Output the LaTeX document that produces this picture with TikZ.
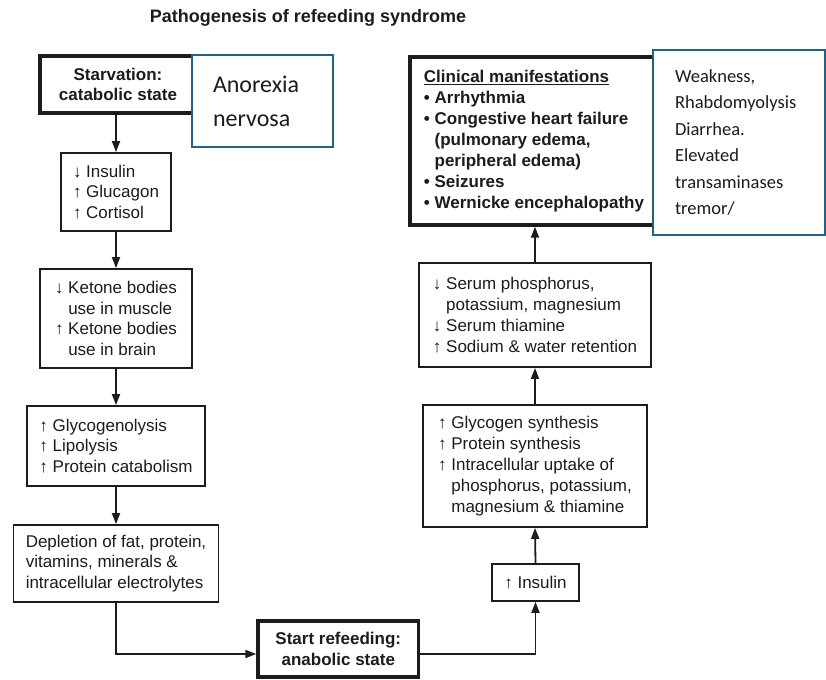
\documentclass[tikz,border=0pt]{standalone}
\usepackage{fontspec}
\setmainfont{Liberation Sans}
\newfontfamily\calfont{Carlito}
\usetikzlibrary{arrows.meta}
\definecolor{boxblue}{RGB}{31,98,138}
\definecolor{ink}{RGB}{28,28,28}
% indent equal to an arrow sign plus a space, and to a bullet plus a space
\newcommand\hang{\hphantom{↓\ }}
\newcommand\blt{\hphantom{•\ }}

\begin{document}
\begin{tikzpicture}[x=1pt,y=-1pt,
  box/.style={draw=ink, line width=1.8pt, fill=white, align=left, inner sep=3pt,
              text=ink, font=\fontsize{17}{20.8}\selectfont},
  keybox/.style={box, line width=3.4pt, align=center,
              font=\bfseries\fontsize{17}{20.8}\selectfont},
  note/.style={draw=boxblue, line width=2.4pt, fill=white, align=left,
              inner ysep=3pt, text=ink},
  flow/.style={draw=ink, line width=1.8pt, -{Triangle[length=11pt,width=8pt]}},
]
\useasboundingbox (0,0) rectangle (826,679);

% title
\node[font=\bfseries\fontsize{18}{22}\selectfont, text=ink] (title) at (308,18)
  {Pathogenesis of refeeding syndrome};

% starvation column
\node[keybox, minimum width=156, minimum height=57] (starv) at (118,84.5)
  {Starvation:\\catabolic state};
\node[box, minimum width=110, minimum height=78] (insL) at (116,192)
  {↓ Insulin\\↑ Glucagon\\↑ Cortisol};
\node[box, minimum width=152, minimum height=99] (keto) at (116,318.5)
  {↓ Ketone bodies\\\hang use in muscle\\↑ Ketone bodies\\\hang use in brain};
\node[box, minimum width=178, minimum height=80] (glyco) at (116,446)
  {↑ Glycogenolysis\\↑ Lipolysis\\↑ Protein catabolism};
\node[box, minimum width=205, minimum height=77] (depl) at (116,563.5)
  {Depletion of fat, protein,\\vitamins, minerals \&\\intracellular electrolytes};

% refeeding
\node[keybox, minimum width=160.6, minimum height=56] (start) at (338.3,649)
  {Start refeeding:\\anabolic state};

% refeeding column
\node[box, minimum width=87, minimum height=37] (insR) at (535.5,582.5)
  {↑ Insulin};
\node[box, minimum width=224, minimum height=122] (gsyn) at (535,466)
  {↑ Glycogen synthesis\\↑ Protein synthesis\\↑ Intracellular uptake of\\\hang phosphorus, potassium,\\\hang magnesium \& thiamine};
\node[box, minimum width=232, minimum height=104] (serum) at (535,315)
  {↓ Serum phosphorus,\\\hang potassium, magnesium\\↓ Serum thiamine\\↑ Sodium \& water retention};
\node[keybox, align=left, minimum width=248, minimum height=168,
      font=\bfseries\fontsize{17}{21}\selectfont] (clin) at (534,141)
  {\underline{Clinical manifestations}\\• Arrhythmia\\• Congestive heart failure\\\blt(pulmonary edema,\\\blt peripheral edema)\\• Seizures\\• Wernicke encephalopathy};

% connectors
\draw[flow] (insL.north |- starv.south) -- (insL.north);
\draw[flow] (insL.south) -- (keto.north);
\draw[flow] (keto.south) -- (glyco.north);
\draw[flow] (glyco.south) -- (depl.north);
\draw[flow] (depl.south) |- ([yshift=-5pt]start.west);
\draw[flow] ([yshift=-5pt]start.east) -| (insR.south);
\draw[flow] (insR.north) -- (gsyn.south);
\draw[flow] (gsyn.north) -- (serum.north |- gsyn.north) -- (serum.south);
\draw[flow] (serum.north) -- (serum.north |- clin.south);

% added notes
\node[note, text width=99, inner xsep=21, minimum height=92,
      font=\calfont\fontsize{24}{34}\selectfont] (anor) at (262.5,101)
  {Anorexia\\nervosa};
\node[note, text width=128, inner xsep=22, minimum height=185,
      font=\calfont\fontsize{18.5}{26.5}\selectfont] (weak) at (739,142.5)
  {Weakness,\\Rhabdomyolysis\\Diarrhea.\\Elevated\\transaminases\\tremor/};
\end{tikzpicture}
\end{document}
